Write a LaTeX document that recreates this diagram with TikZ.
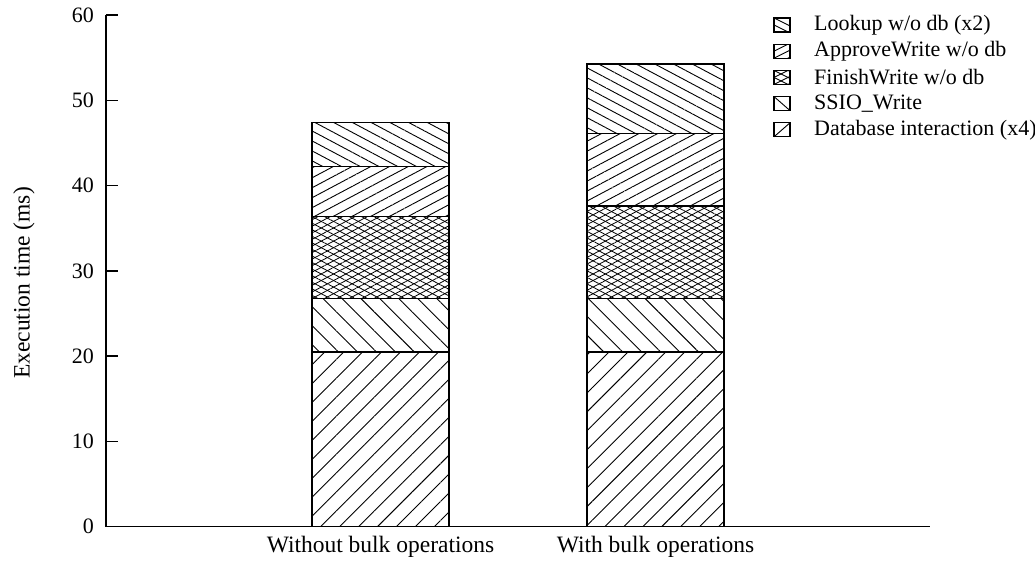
\documentclass[tikz,border=0pt]{standalone}
\usepackage{fontspec}
\setmainfont{Liberation Serif}
\usetikzlibrary{patterns.meta}
\tikzset{
  lbl/.style={font=\fontsize{22}{26}\selectfont, inner sep=0pt, text=black},
  biglbl/.style={font=\fontsize{23.5}{28}\selectfont, inner sep=0pt, text=black},
  axisline/.style={line width=1.4pt, black},
  seg/.style={draw=black, line width=1.3pt},
  hatchline/.style={line width=0.9pt, black},
  patDB/.style={pattern={Lines[angle=45,distance=13.4pt,line width=0.9pt]}, pattern color=black},
  patSS/.style={pattern={Lines[angle=-45,distance=13.4pt,line width=0.9pt]}, pattern color=black},
  patFA/.style={pattern={Lines[angle=28,distance=5.8pt,line width=0.8pt]}, pattern color=black},
  patFB/.style={pattern={Lines[angle=-28,distance=5.8pt,line width=0.8pt]}, pattern color=black},
  patAW/.style={pattern={Lines[angle=28,distance=8.8pt,line width=0.9pt]}, pattern color=black},
  patLU/.style={pattern={Lines[angle=-28,distance=8.8pt,line width=0.9pt]}, pattern color=black},
}
\newcommand\drawbar[7]{%
  \fill[patDB] (#1,0) rectangle (#2,#3);
  \fill[patSS] (#1,#3) rectangle (#2,#4);
  \fill[patFA] (#1,#4) rectangle (#2,#5);
  \fill[patFB] (#1,#4) rectangle (#2,#5);
  \fill[patAW] (#1,#5) rectangle (#2,#6);
  \fill[patLU] (#1,#6) rectangle (#2,#7);
  \draw[seg] (#1,0) rectangle (#2,#3) (#1,#3) rectangle (#2,#4)
    (#1,#4) rectangle (#2,#5) (#1,#5) rectangle (#2,#6) (#1,#6) rectangle (#2,#7);
}
\begin{document}
\begin{tikzpicture}[x=1pt,y=1pt]
\useasboundingbox (0,0) rectangle (1035,563);

% data area
\begin{scope}[shift={(0,36.3)}, y=8.528pt]
  \drawbar{312}{449}{20.47}{26.72}{36.37}{42.22}{47.43}
  \drawbar{587}{724}{20.47}{26.72}{37.60}{46.14}{54.26}
  \draw[axisline] (106,60) -- (106,0) -- (930,0);
  \foreach \v in {10,20,...,60} { \draw[axisline] (106,\v) -- (118,\v); }
  \foreach \v in {0,10,...,60} { \node[lbl, anchor=east] (tick\v) at (94,\v) {\v}; }
\end{scope}

% axis labels
\node[biglbl, rotate=90] (ylab) at (24,280) {Execution time (ms)};
\node[biglbl, anchor=base] (xl1) at (380.5,11) {Without bulk operations};
\node[biglbl, anchor=base] (xl2) at (655.5,11) {With bulk operations};

% legend
\def\lx{774}\def\rx{790}
% Lookup
\begin{scope}
  \clip (\lx,531) rectangle (\rx,545);
  \foreach \k in {-7,0,7,14} { \draw[hatchline] (\lx,545-\k) -- (\rx,537-\k); }
\end{scope}
\draw[line width=1.1pt] (\lx,531) rectangle (\rx,545);
\node[lbl, anchor=west] (lg1) at (814,538) {Lookup w/o db (x2)};
% ApproveWrite
\begin{scope}
  \clip (\lx,504.8) rectangle (\rx,518.8);
  \foreach \k in {-7,0,7,14} { \draw[hatchline] (\lx,504.8+\k) -- (\rx,512.8+\k); }
\end{scope}
\draw[line width=1.1pt] (\lx,504.8) rectangle (\rx,518.8);
\node[lbl, anchor=west] (lg2) at (814,511.8) {ApproveWrite w/o db};
% FinishWrite
\begin{scope}
  \clip (\lx,478.6) rectangle (\rx,492.6);
  \foreach \k in {-7,0,7,14} {
    \draw[hatchline] (\lx,478.6+\k) -- (\rx,486.6+\k);
    \draw[hatchline] (\lx,492.6-\k) -- (\rx,484.6-\k);
  }
\end{scope}
\draw[line width=1.1pt] (\lx,478.6) rectangle (\rx,492.6);
\node[lbl, anchor=west] (lg3) at (814,485.6) {FinishWrite w/o db};
% SSIO_Write
\draw[hatchline] (\lx,466.4) -- (\rx,452.4);
\draw[line width=1.1pt] (\lx,452.4) rectangle (\rx,466.4);
\node[lbl, anchor=west] (lg4) at (814,459.4) {SSIO\_Write};
% Database
\draw[hatchline] (\lx,426.2) -- (\rx,440.2);
\draw[line width=1.1pt] (\lx,426.2) rectangle (\rx,440.2);
\node[lbl, anchor=west] (lg5) at (814,433.2) {Database interaction (x4)};
\end{tikzpicture}
\end{document}
